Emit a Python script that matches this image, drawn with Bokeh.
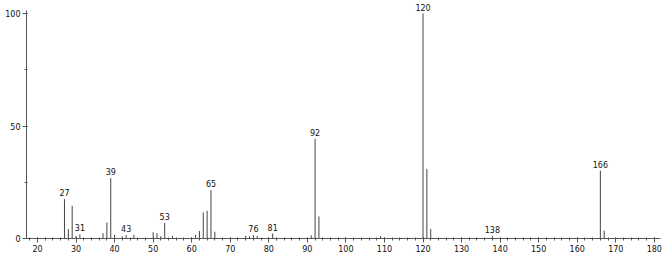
from bokeh.plotting import figure
from bokeh.models import SingleIntervalTicker, Range1d, ColumnDataSource
from bokeh.embed import file_html
from bokeh.resources import INLINE
from bokeh.core.properties import value

# m/z values and relative intensities
mz = [27, 28, 29, 30, 31, 37, 38, 39, 40, 42, 43, 45, 50, 51, 52, 53, 55,
      61, 62, 63, 64, 65, 66, 74, 75, 76, 77, 81, 91, 92, 93, 109,
      120, 121, 122, 138, 166, 167]
intensity = [17.5, 4.2, 14.5, 1.2, 1.8, 2.3, 7.1, 26.8, 1.6, 0.9, 1.5, 1.6,
             2.8, 2.4, 1.0, 6.9, 1.2, 1.6, 3.4, 11.6, 12.3, 21.5, 3.0,
             1.2, 1.0, 1.5, 1.2, 2.2, 1.4, 44.3, 9.8, 1.1,
             100.0, 30.9, 4.2, 1.2, 30.2, 3.5]
labeled_mz = [27, 31, 39, 43, 53, 65, 76, 81, 92, 120, 138, 166]

heights = dict(zip(mz, intensity))
label_y = []
for m in labeled_mz:
    label_y.append(heights[m])

src = ColumnDataSource(dict(x=mz, y=intensity, y0=[0] * len(mz)))
lab = ColumnDataSource(dict(x=labeled_mz, y=label_y, t=[str(m) for m in labeled_mz]))

p = figure(width=666, height=254, output_backend="svg", toolbar_location=None,
           x_range=Range1d(17.15, 181.6), y_range=Range1d(0, 104.9),
           min_border_left=26, min_border_right=6, min_border_top=2,
           min_border_bottom=16)
p.background_fill_color = "white"
p.border_fill_color = "white"
p.outline_line_color = None
p.grid.visible = False

p.segment(x0="x", y0="y0", x1="x", y1="y", source=src,
          line_color="#444444", line_width=1)
p.text(x="x", y="y", text="t", source=lab, text_align="center",
       text_baseline="bottom", y_offset=-3, text_font=value("DejaVu Sans"),
       text_font_size="8px", text_color="#111111")

p.xaxis.ticker = SingleIntervalTicker(interval=10, num_minor_ticks=5)
p.yaxis.ticker = SingleIntervalTicker(interval=50, num_minor_ticks=2)
p.yaxis.bounds = (0, 101.3)
for ax in (p.xaxis, p.yaxis):
    ax.axis_line_color = "#555555"
    ax.major_tick_line_color = "#555555"
    ax.minor_tick_line_color = "#555555"
    ax.major_tick_out = 4
    ax.major_tick_in = 1
    ax.minor_tick_out = 2
    ax.minor_tick_in = 1
    ax.major_label_text_font = "DejaVu Sans"
    ax.major_label_text_font_size = "8px"
    ax.major_label_text_color = "#111111"
    ax.major_label_standoff = 2

open("out.html", "w").write(file_html(p, INLINE))
